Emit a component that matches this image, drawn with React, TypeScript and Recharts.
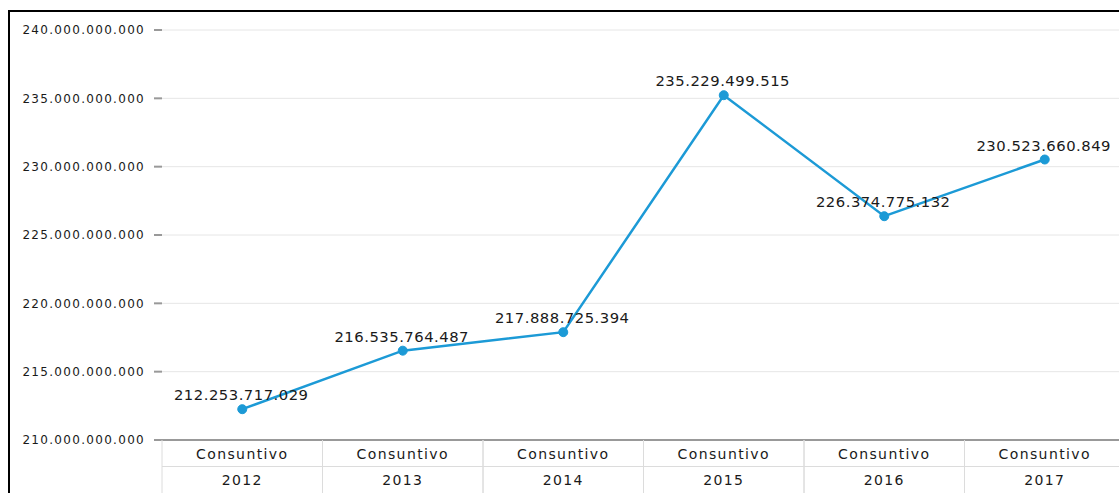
import { LineChart, Line, XAxis, YAxis, CartesianGrid, LabelList } from "recharts";

const years = ["2012", "2013", "2014", "2015", "2016", "2017"];
const measureLabel = "Consuntivo";
const consuntivo = [212253717029, 216535764487, 217888725394, 235229499515, 226374775132, 230523660849];
const yTicks = [210e9, 215e9, 220e9, 225e9, 230e9, 235e9, 240e9];

const data = years.map((year, i) => ({ year, value: consuntivo[i] }));

const fmt = (v: number) => Math.round(v).toLocaleString("de-DE");

const FONT = "'DejaVu Sans', sans-serif";
const HALF_BAND = 80.25;

function TableTick(props: any) {
  const { x, y, payload } = props;
  const top = y;
  return (
    <g>
      <line x1={x - HALF_BAND} y1={top} x2={x - HALF_BAND} y2={top + 60} stroke="#dcdcdc" />
      <line x1={x + HALF_BAND} y1={top} x2={x + HALF_BAND} y2={top + 60} stroke="#dcdcdc" />
      <line x1={x - HALF_BAND} y1={top + 26.5} x2={x + HALF_BAND} y2={top + 26.5} stroke="#dcdcdc" />
      <text x={x} y={top + 19} textAnchor="middle" fontSize={14} fill="#1a1a1a" letterSpacing={1.4} fontFamily={FONT}>
        {measureLabel}
      </text>
      <text x={x} y={top + 45} textAnchor="middle" fontSize={14} fill="#1a1a1a" letterSpacing={1.4} fontFamily={FONT}>
        {payload.value}
      </text>
    </g>
  );
}

function ValueLabel(props: any) {
  const { x, y, value } = props;
  return (
    <text x={x - 1} y={y - 9} textAnchor="middle" fontSize={14.8} fill="#1a1a1a" letterSpacing={0.5} fontFamily={FONT}>
      {fmt(value)}
    </text>
  );
}

export default function App() {
  return (
    <div
      style={{
        position: "fixed",
        left: 0,
        top: 0,
        width: 1119,
        height: 493,
        overflow: "hidden",
        background: "#fff",
        fontFamily: FONT,
      }}
    >
      <div
        style={{
          position: "absolute",
          left: 8,
          top: 10,
          right: -20,
          bottom: -20,
          borderLeft: "2px solid #000",
          borderTop: "2px solid #000",
        }}
      />
      <div style={{ position: "absolute", left: 8, top: 8 }}>
        <LineChart width={1117} height={485} data={data} margin={{ top: 22, right: 0, bottom: 0, left: 0 }}>
          <CartesianGrid vertical={false} stroke="#e6e6e6" />
          <XAxis
            dataKey="year"
            padding={{ left: HALF_BAND, right: HALF_BAND }}
            height={53}
            tickLine={false}
            tickSize={0}
            axisLine={{ stroke: "#999", strokeWidth: 2 }}
            tick={<TableTick />}
            tickMargin={0}
            interval={0}
          />
          <YAxis
            width={154}
            domain={[210e9, 240e9]}
            ticks={yTicks}
            tickFormatter={fmt}
            axisLine={false}
            tickLine={{ stroke: "#999", strokeWidth: 2 }}
            tickSize={8}
            tickMargin={9}
            tick={{ fontSize: 12, fill: "#1a1a1a", letterSpacing: 1.3, fontFamily: FONT }}
          />
          <Line
            dataKey="value"
            stroke="#1c9ad6"
            strokeWidth={2.5}
            dot={{ r: 4.5, fill: "#1c9ad6", stroke: "#1c9ad6", strokeWidth: 1 }}
            isAnimationActive={false}
          >
            <LabelList dataKey="value" content={<ValueLabel />} />
          </Line>
        </LineChart>
      </div>
    </div>
  );
}
